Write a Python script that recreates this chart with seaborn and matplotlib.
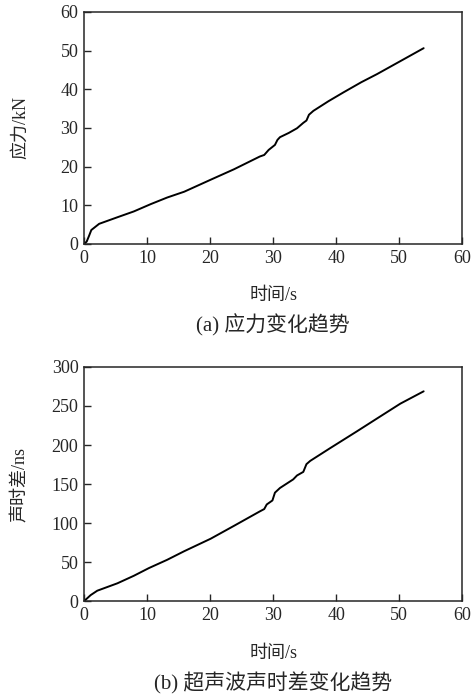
import matplotlib
matplotlib.use('Agg')
import matplotlib.pyplot as plt
import pandas as pd
import seaborn as sns

# (a) 应力 vs 时间
force_t = [0, 0.42, 0.8, 1.16, 2.4, 5.3, 7.9, 10.6, 13.2, 15.9, 20.1, 23.8,
           27.9, 28.6, 29.3, 30.3, 30.7, 31.1, 32.5, 33.8, 34.8, 35.3, 35.7,
           36.4, 38.8, 41.2, 44, 46.5, 50.7, 53.9]
force_kN = [0, 0.6, 2.1, 3.6, 5.2, 6.9, 8.4, 10.3, 12.0, 13.5, 16.6, 19.3,
            22.6, 23.0, 24.3, 25.6, 26.9, 27.6, 28.7, 29.9, 31.3, 31.9, 33.4,
            34.4, 36.9, 39.2, 41.8, 43.9, 47.7, 50.6]

# (b) 声时差 vs 时间
dt_t = [0, 1.06, 2.1, 5.3, 7.9, 10.3, 13.2, 15.9, 20.1, 23.8, 27.9, 28.6,
        29.0, 29.9, 30.3, 31.1, 33.2, 33.8, 34.8, 35.3, 35.9, 39.0, 43.3, 46.5,
        50.2, 53.9]
dt_ns = [0, 7.8, 13.4, 22.9, 32.5, 42.4, 53, 64, 80, 96.5, 115, 118, 123.9,
         129, 139, 145, 156, 161, 165.6, 175.5, 179.7, 195.7, 217.5, 234,
         253, 268.8]

sns.set_style('ticks')
plt.rcParams['font.family'] = ['Liberation Serif', 'Noto Sans CJK SC']
plt.rcParams['axes.linewidth'] = 1.1

fig = plt.figure(figsize=(4.72, 6.95), dpi=100)
ax1 = fig.add_axes([0.178, 0.649, 0.801, 0.334])
ax2 = fig.add_axes([0.178, 0.135, 0.801, 0.337])

df1 = pd.DataFrame({'t': force_t, 'v': force_kN})
df2 = pd.DataFrame({'t': dt_t, 'v': dt_ns})

sns.lineplot(data=df1, x='t', y='v', ax=ax1, color='black', linewidth=1.4)
sns.lineplot(data=df2, x='t', y='v', ax=ax2, color='black', linewidth=1.4)

ax1.set_ylim(0, 60)
ax1.set_yticks(range(0, 61, 10))
ax2.set_ylim(0, 300)
ax2.set_yticks(range(0, 301, 50))

for ax, ylab, cap in [(ax1, '应力/kN', '(a) 应力变化趋势'),
                      (ax2, '声时差/ns', '(b) 超声波声时差变化趋势')]:
    ax.set_xlim(0, 60)
    ax.set_xticks(range(0, 61, 10))
    ax.tick_params(direction='in', length=5, width=1, labelsize=13, pad=4)
    ax.set_xlabel('时间/s', fontsize=13)
    ax.set_ylabel(ylab, fontsize=13)
    ax.xaxis.set_label_coords(0.5, -0.185)
    ax.yaxis.set_label_coords(-0.145, 0.5)
    ax.text(0.5, -0.35, cap, transform=ax.transAxes, ha='center', va='center',
            fontsize=15)

fig.savefig('out.png', dpi=100)
